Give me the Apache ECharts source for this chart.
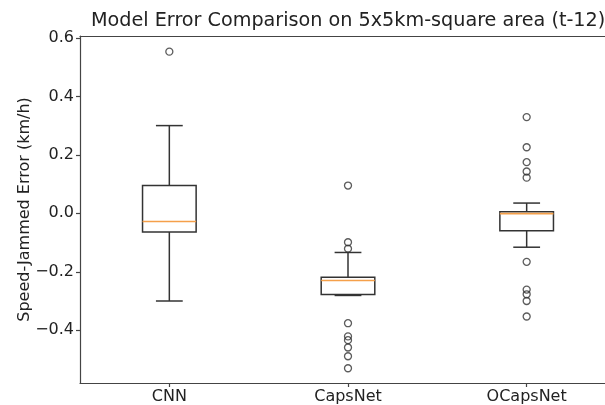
<!DOCTYPE html>
<html><head><meta charset="utf-8">
<script src="https://cdn.jsdelivr.net/npm/echarts@6/dist/echarts.min.js"></script>
<style>html,body{margin:0;padding:0;background:#fff}#c{width:605px;height:405px}</style>
</head><body><div id="c"></div>
<script>
const categories = ['CNN', 'CapsNet', 'OCapsNet'];
const whiskerLow = [-0.300, -0.281, -0.116];
const q1 = [-0.064, -0.278, -0.060];
const median = [-0.028, -0.230, -0.001];
const q3 = [0.095, -0.219, 0.005];
const whiskerHigh = [0.300, -0.134, 0.035];
const outliersCNN = [0.553];
const outliersCapsNet = [0.095, -0.099, -0.121, -0.376, -0.421, -0.434, -0.459, -0.489, -0.530];
const outliersOCapsNet = [0.329, 0.226, 0.175, 0.143, 0.122, -0.166, -0.261, -0.277, -0.300, -0.353];
const yTicks = [-0.4, -0.2, 0.0, 0.2, 0.4, 0.6];

const boxData = categories.map((c, i) => [i, whiskerLow[i], q1[i], median[i], q3[i], whiskerHigh[i]]);
const outlierData = [];
[outliersCNN, outliersCapsNet, outliersOCapsNet].forEach((arr, i) => arr.forEach(v => outlierData.push([i, v])));

const FONT = 'DejaVu Sans';
const chart = echarts.init(document.getElementById('c'), null, {renderer: 'canvas'});
const lineCol = '#333';
const spine = {show: true, onZero: false, lineStyle: {color: '#444', width: 1.2}};
chart.setOption({
  animation: false,
  backgroundColor: '#fff',
  title: {
    text: 'Model Error Comparison on 5x5km-square area (t-12)',
    left: 91, top: 12, padding: 0,
    textStyle: {fontFamily: FONT, fontSize: 19.2, fontWeight: 'normal', color: '#222'}
  },
  grid: {left: 80, top: 36, width: 536, height: 347, outerBoundsMode: 'none', containLabel: false, show: false},
  xAxis: [{
    type: 'category', data: categories, boundaryGap: true, position: 'bottom',
    axisLine: spine,
    axisTick: {show: true, alignWithLabel: true, length: 4, lineStyle: {color: '#444', width: 1.2}},
    axisLabel: {fontFamily: FONT, fontSize: 16, color: '#222', margin: 6},
    splitLine: {show: false}
  }, {
    type: 'category', data: categories, boundaryGap: true, position: 'top',
    axisLine: spine, axisTick: {show: false}, axisLabel: {show: false}, splitLine: {show: false}
  }],
  yAxis: {
    type: 'value', min: -0.5805, max: 0.6065,
    name: 'Speed-Jammed Error (km/h)', nameLocation: 'middle', nameGap: 47, nameMoveOverlap: false,
    nameTextStyle: {fontFamily: FONT, fontSize: 16, color: '#222'},
    axisLine: spine,
    axisTick: {show: true, length: 4, customValues: yTicks, lineStyle: {color: '#444', width: 1.2}},
    axisLabel: {fontFamily: FONT, fontSize: 16, color: '#222', margin: 6, customValues: yTicks,
      formatter: v => (v < -1e-9 ? '\u2212' : '') + Math.abs(v).toFixed(1)},
    splitLine: {show: false}
  },
  series: [
    {
      type: 'custom',
      data: boxData,
      encode: {x: 0, y: [1, 2, 3, 4, 5]},
      renderItem: function (params, api) {
        const idx = api.value(0);
        const band = api.size([1, 0])[0];
        const bw = band * 0.3;
        const cw = bw / 2;
        const pLo = api.coord([idx, api.value(1)]);
        const pQ1 = api.coord([idx, api.value(2)]);
        const pMed = api.coord([idx, api.value(3)]);
        const pQ3 = api.coord([idx, api.value(4)]);
        const pHi = api.coord([idx, api.value(5)]);
        const x = pQ1[0];
        const st = {stroke: lineCol, lineWidth: 1.5, fill: null};
        return {
          type: 'group',
          children: [
            {type: 'line', shape: {x1: x, y1: pQ1[1], x2: x, y2: pLo[1]}, style: st},
            {type: 'line', shape: {x1: x, y1: pQ3[1], x2: x, y2: pHi[1]}, style: st},
            {type: 'line', shape: {x1: x - cw / 2, y1: pLo[1], x2: x + cw / 2, y2: pLo[1]}, style: st},
            {type: 'line', shape: {x1: x - cw / 2, y1: pHi[1], x2: x + cw / 2, y2: pHi[1]}, style: st},
            {type: 'rect', shape: {x: x - bw / 2, y: pQ3[1], width: bw, height: pQ1[1] - pQ3[1]}, style: {stroke: lineCol, lineWidth: 1.5, fill: '#fff'}},
            {type: 'line', shape: {x1: x - bw / 2, y1: pMed[1], x2: x + bw / 2, y2: pMed[1]}, style: {stroke: '#f5a04a', lineWidth: 1.6}}
          ]
        };
      },
      z: 2
    },
    {
      type: 'scatter',
      data: outlierData,
      symbol: 'circle', symbolSize: 7,
      itemStyle: {color: 'rgba(255,255,255,0)', borderColor: '#333', borderWidth: 1.3},
      z: 3
    }
  ]
});
</script></body></html>
